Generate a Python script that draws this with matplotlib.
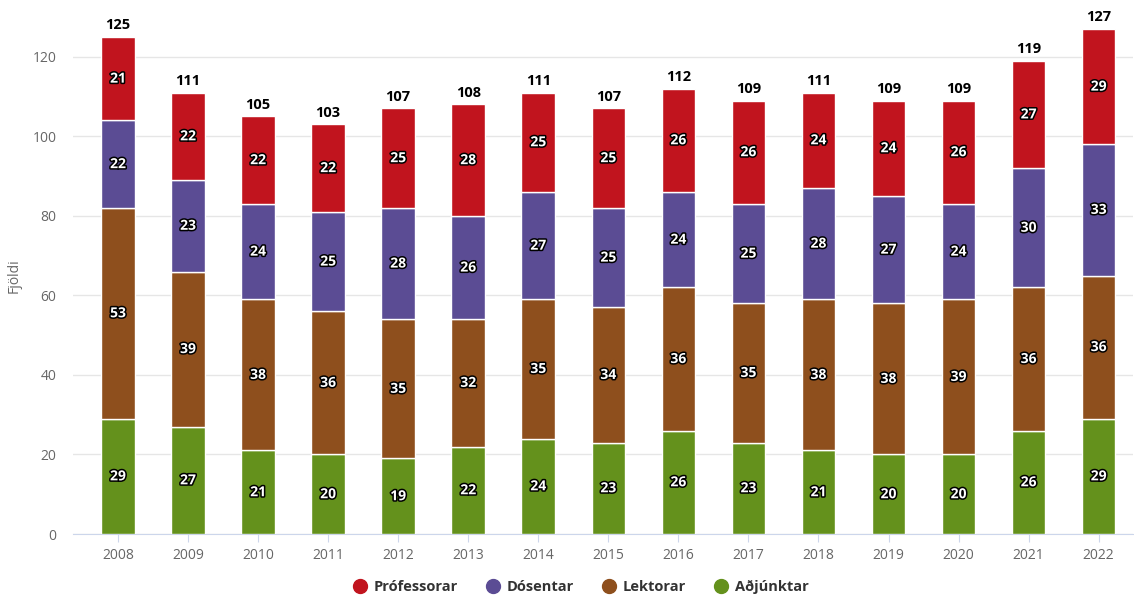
import matplotlib
matplotlib.use("Agg")
import matplotlib.pyplot as plt
import matplotlib.patheffects as pe
from matplotlib.lines import Line2D
import numpy as np

years = ["2008", "2009", "2010", "2011", "2012", "2013", "2014", "2015",
         "2016", "2017", "2018", "2019", "2020", "2021", "2022"]
adjunktar = [29, 27, 21, 20, 19, 22, 24, 23, 26, 23, 21, 20, 20, 26, 29]
lektorar = [53, 39, 38, 36, 35, 32, 35, 34, 36, 35, 38, 38, 39, 36, 36]
dosentar = [22, 23, 24, 25, 28, 26, 27, 25, 24, 25, 28, 27, 24, 30, 33]
profesorar = [21, 22, 22, 22, 25, 28, 25, 25, 26, 26, 24, 24, 26, 27, 29]

series = [
    ("Aðjúnktar", adjunktar, "#64911c"),
    ("Lektorar", lektorar, "#8e4f1d"),
    ("Dósentar", dosentar, "#5b4c94"),
    ("Prófessorar", profesorar, "#c1141e"),
]

plt.rcParams['font.family'] = ['Open Sans', 'DejaVu Sans']

fig = plt.figure(figsize=(11.34, 5.99), dpi=100)
ax = fig.add_axes([73/1134, 65/599, (1133-73)/1134, (534-17)/599])

x = np.arange(len(years))
bottom = np.zeros(len(years))
handles = {}
outline = [pe.withStroke(linewidth=2.2, foreground="black")]
for name, vals, col in series:
    vals = np.array(vals)
    ax.bar(x, vals, width=0.48, bottom=bottom, color=col,
           edgecolor="white", linewidth=1, zorder=3)
    handles[name] = col
    for xi, v, bo in zip(x, vals, bottom):
        ax.text(xi, bo + v / 2, str(v), ha="center", va="center",
                color="white", fontsize=10, fontweight="bold",
                path_effects=outline, zorder=5)
    bottom = bottom + vals

for xi, t in zip(x, bottom):
    ax.text(xi, t + 1.2, str(int(t)), ha="center", va="bottom",
            color="#000000", fontsize=10.5, fontweight="bold", zorder=5)

ax.set_xlim(-0.642, 14.49)
ax.set_ylim(0, 130)
ax.set_yticks([0, 20, 40, 60, 80, 100, 120])
ax.set_xticks(x)
ax.set_xticklabels(years)
ax.tick_params(axis="y", length=0, labelsize=10, labelcolor="#666666", pad=12)
ax.tick_params(axis="x", length=6, color="#ccd6eb", labelsize=10,
               labelcolor="#666666", pad=4)
ax.grid(axis="y", color="#e6e6e6", linewidth=1, zorder=0)
for s in ["top", "right", "left"]:
    ax.spines[s].set_visible(False)
ax.spines["bottom"].set_color("#ccd6eb")
ax.set_ylabel("Fjöldi", color="#666666", fontsize=10, labelpad=8)

order = ["Prófessorar", "Dósentar", "Lektorar", "Aðjúnktar"]
lh = [Line2D([0], [0], marker="o", linestyle="", markersize=10,
             markerfacecolor=handles[n], markeredgecolor=handles[n]) for n in order]
fig.legend(lh, order, loc="center", bbox_to_anchor=(580/1134, 1 - 587/599),
           ncol=4, frameon=False, handletextpad=0.35, columnspacing=1.8,
           handlelength=1.2,
           prop={"weight": "bold", "size": 10.5}, labelcolor="#333333")

fig.savefig("out.png", dpi=100)
